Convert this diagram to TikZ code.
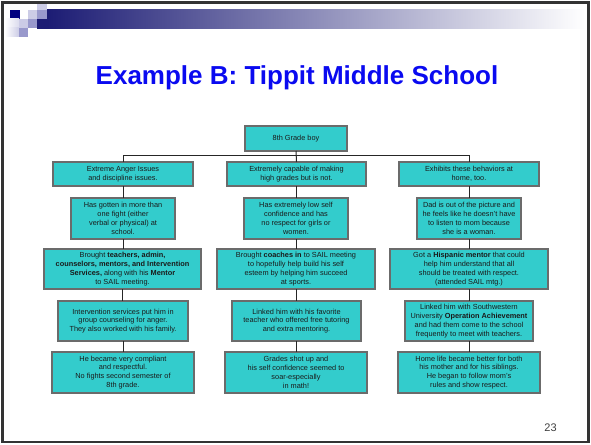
\documentclass[tikz,border=0pt]{standalone}
\usepackage{fontspec}
\setmainfont{Liberation Sans}
\begin{document}
\definecolor{boxfill}{HTML}{33CCCC}
\definecolor{boxline}{HTML}{6B6B6B}
\definecolor{boxtext}{HTML}{1A1A1A}
\definecolor{navy}{HTML}{000080}
\definecolor{barstart}{HTML}{1C1C74}
\definecolor{barmid}{HTML}{AEB0C6}
\definecolor{lilac}{HTML}{CCCCE6}
\definecolor{lavender}{HTML}{9999CC}
\definecolor{titleblue}{HTML}{0A0AF0}
\begin{tikzpicture}[x=1pt,y=-1pt,
  every node/.style={inner sep=0pt, outer sep=0pt},
  card/.style={draw=boxline, line width=1.1pt, fill=boxfill, text=boxtext,
    align=center, font=\fontsize{7.35}{8.9}\selectfont},
  link/.style={draw=black!85, line width=1pt}]
% page frame and background
\useasboundingbox (0,0) rectangle (591,444);
\fill[white] (0,0) rectangle (591,444);
\draw[black!80, line width=2.6pt] (2.5,2.5) rectangle (588.5,441.8);

% header band with square ornaments
\shade[left color=barstart, middle color=barmid, right color=white]
  (47,10) rectangle (585,29);
\fill[barstart] (37,19) rectangle (47,29);
\fill[navy] (10,10) rectangle (20,19);
\fill[lilac] (28,10) rectangle (37,19);
\fill[lavender] (37,10) rectangle (47,19);
\fill[lilac] (37,4.5) rectangle (47,10);
\shade[left color=white, right color=lilac!70] (5,19) rectangle (19,28);
\fill[lilac] (19,19) rectangle (28,28);
\fill[lavender] (28,19) rectangle (37,28);
\shade[left color=white, right color=lilac] (5,28) rectangle (19,37);
\fill[lavender] (19,28) rectangle (28,37);

% title
\node[anchor=base, text=titleblue, font=\bfseries\fontsize{26}{30}\selectfont] (title) at (297,84.5)
  {Example B: Tippit Middle School};

% root
\node[card, minimum width=102pt, minimum height=25pt] (top) at (296,138.5) {8th Grade boy};

% first level
\node[card, minimum width=140pt, minimum height=24pt] (l1) at (123,174)
  {Extreme Anger Issues\\and discipline issues.};
\node[card, minimum width=139pt, minimum height=24pt] (m1) at (296.5,174)
  {Extremely capable of making\\high grades but is not.};
\node[card, minimum width=140pt, minimum height=24pt] (r1) at (469,174)
  {Exhibits these behaviors at\\home, too.};

% second level
\node[card, minimum width=104pt, minimum height=41pt] (l2) at (123,218.5)
  {Has gotten in more than\\one fight (either\\verbal or physical) at\\school.};
\node[card, minimum width=104pt, minimum height=41pt] (m2) at (296,218.5)
  {Has extremely low self\\confidence and has\\no respect for girls or\\women.};
\node[card, minimum width=104pt, minimum height=41pt] (r2) at (469,218.5)
  {Dad is out of the picture and\\he feels like he doesn't have\\to listen to mom because\\she is a woman.};

% third level
\node[card, minimum width=157pt, minimum height=40pt] (l3) at (122.5,269)
  {Brought \textbf{teachers, admin,}\\\textbf{counselors, mentors, and Intervention}\\\textbf{Services,} along with his \textbf{Mentor}\\to SAIL meeting.};
\node[card, minimum width=158pt, minimum height=40pt] (m3) at (296,269)
  {Brought \textbf{coaches in} to SAIL meeting\\to hopefully help build his self\\esteem by helping him succeed\\at sports.};
\node[card, minimum width=158pt, minimum height=40pt] (r3) at (469,269)
  {Got a \textbf{Hispanic mentor} that could\\help him understand that all\\should be treated with respect.\\(attended SAIL mtg.)};

% fourth level
\node[card, minimum width=130pt, minimum height=40pt] (l4) at (123,321)
  {Intervention services put him in\\group counseling for anger.\\They also worked with his family.};
\node[card, minimum width=129pt, minimum height=40pt] (m4) at (296.5,321)
  {Linked him with his favorite\\teacher who offered free tutoring\\and extra mentoring.};
\node[card, minimum width=128pt, minimum height=40pt] (r4) at (469,321)
  {Linked him with Southwestern\\University \textbf{Operation Achievement}\\and had them come to the school\\frequently to meet with teachers.};

% fifth level
\node[card, minimum width=142pt, minimum height=41pt] (l5) at (123,372.5)
  {He became very compliant\\and respectful.\\No fights second semester of\\8th grade.};
\node[card, minimum width=142pt, minimum height=41pt] (m5) at (296,372.5)
  {Grades shot up and\\his self confidence seemed to\\soar-especially\\in math!};
\node[card, minimum width=142pt, minimum height=41pt] (r5) at (469,372.5)
  {Home life became better for both\\his mother and for his siblings.\\He began to follow mom's\\rules and show respect.};

% connectors
\coordinate (bus) at (296,155);
\draw[link] (top.south) -- (m1.north);
\draw[link] (l1.north) -- (l1.north |- bus) -- (r1.north |- bus) -- (r1.north);
\foreach \c in {l,m,r}{
  \draw[link] (\c1.south) -- (\c1.south |- \c2.north);
  \draw[link] (\c2.south) -- (\c2.south |- \c3.north);
  \draw[link] (\c3.south) -- (\c3.south |- \c4.north);
  \draw[link] (\c4.south) -- (\c4.south |- \c5.north);
}

% slide number
\node[anchor=base, text=black!75, font=\fontsize{11}{13}\selectfont] (num) at (550.5,431) {23};
\end{tikzpicture}
\end{document}
